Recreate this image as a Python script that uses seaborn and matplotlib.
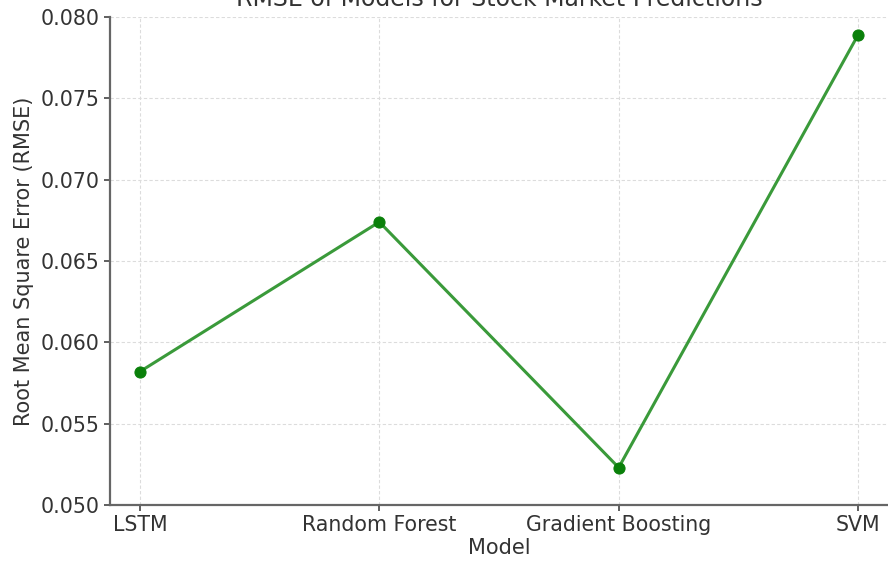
import matplotlib
matplotlib.use("Agg")
import matplotlib.pyplot as plt
import seaborn as sns
import pandas as pd

models = ["LSTM", "Random Forest", "Gradient Boosting", "SVM"]
rmse = [0.0582, 0.0674, 0.0523, 0.0789]

df = pd.DataFrame({"Model": models, "RMSE": rmse})

sns.set_style("ticks")
plt.rcParams['font.family'] = ['DejaVu Sans']

fig = plt.figure(figsize=(8.88, 5.61), dpi=100, facecolor='white')
ax = fig.add_axes([110 / 888, 56 / 561, 778 / 888, 488 / 561])

sns.lineplot(data=df, x="Model", y="RMSE", sort=False, ax=ax,
             color='#3a9a3a', linewidth=2.2, marker='o', markersize=8,
             markerfacecolor='#0a800a', markeredgecolor='#0a800a')

ax.set_xlim(-0.125, 3.125)
ax.set_ylim(0.050, 0.080)
ax.set_yticks([0.050, 0.055, 0.060, 0.065, 0.070, 0.075, 0.080])
ax.set_yticklabels([f"{v:.3f}" for v in ax.get_yticks()])

ax.grid(True, linestyle=(0, (3, 2)), color='#dcdcdc', linewidth=0.8)
ax.set_axisbelow(True)

for s in ['left', 'bottom']:
    ax.spines[s].set_color('#666666')
    ax.spines[s].set_linewidth(1.6)
ax.spines['top'].set_visible(False)
ax.spines['right'].set_visible(False)
ax.tick_params(colors='#444444', labelsize=14.8, width=1.2, length=4)
for lbl in ax.get_xticklabels() + ax.get_yticklabels():
    lbl.set_color('#333333')

ax.set_xlabel("Model", fontsize=15, color='#333333', labelpad=2)
ax.set_ylabel("Root Mean Square Error (RMSE)", fontsize=15, color='#333333', labelpad=5)
ax.set_title("RMSE of Models for Stock Market Predictions", fontsize=17,
             color='#333333', pad=8)

fig.savefig("out.png", dpi=100, facecolor='white')
